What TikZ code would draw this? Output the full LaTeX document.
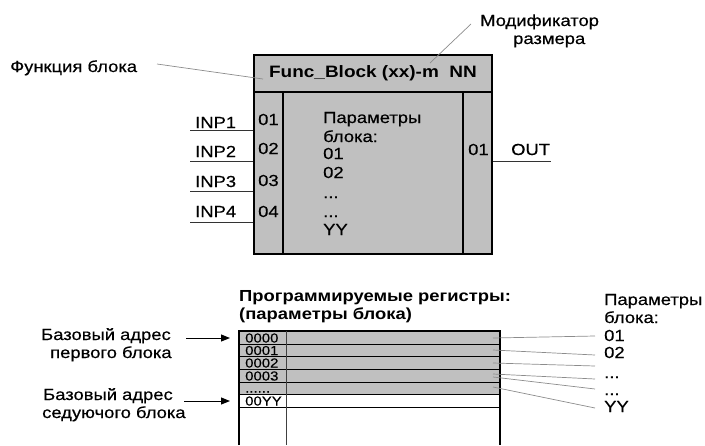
\documentclass[tikz,border=0pt]{standalone}
\usepackage{fontspec}
\setmainfont{Liberation Sans}[FakeStretch=1.15, UprightFeatures={FakeBold=0.4}]
\usetikzlibrary{arrows.meta}
\definecolor{boxgray}{RGB}{192,192,192}
\definecolor{leadgray}{RGB}{140,140,140}
\begin{document}
\begin{tikzpicture}[x=1pt,y=-1pt,
  txt/.style={inner sep=0pt, anchor=base west, font=\fontsize{16}{18}\selectfont},
  btxt/.style={inner sep=0pt, anchor=base west, font=\fontsize{16}{18}\selectfont\bfseries},
  rtxt/.style={inner sep=0pt, anchor=base west, font=\fontsize{13}{14}\selectfont},
  blk/.style={draw, line width=2pt, fill=boxgray, inner sep=0pt, anchor=north west},
  rowbox/.style={draw, line width=1.3pt, fill=boxgray, inner sep=0pt, anchor=north west, minimum width=260pt},
  lead/.style={draw=leadgray, line width=0.7pt},
  wire/.style={draw=black!80, line width=1pt},
  arr/.style={draw, line width=1pt, -{Triangle[length=9pt,width=7pt]}, shorten >=9pt}]
\useasboundingbox (0,0) rectangle (705,445);

% ---------- function block ----------
\node[blk, minimum width=238pt, minimum height=37pt, font=\fontsize{16.5}{18}\selectfont\bfseries] (hdr) at (253,54) {Func\_Block (xx)-m\ \ NN};
\node[blk, minimum width=29pt, minimum height=162pt] (lcol) at (253,91) {};
\node[blk, minimum width=180pt, minimum height=162pt] (mid) at (282,91) {};
\node[blk, minimum width=29pt, minimum height=162pt] (rcol) at (462,91) {};

% labels with leader lines
\node[txt] (fb) at (10,72) {Функция блока};
\coordinate (fbA) at (157,64);
\coordinate (fbB) at (263,79);
\draw[lead] (fbA) -- (fbB);

\node[txt] (mod1) at (480,26) {Модификатор};
\node[txt] (mod2) at (513,44) {размера};
\coordinate (modA) at (471,24);
\coordinate (modB) at (430,63);
\draw[lead] (modA) -- (modB);

% inputs
\node[txt] (n1) at (258,125) {01};
\node[txt] (n2) at (258,154) {02};
\node[txt] (n3) at (258,186) {03};
\node[txt] (n4) at (258,217) {04};
\node[txt] (i1) at (195,128) {INP1};
\node[txt] (i2) at (195,157) {INP2};
\node[txt] (i3) at (195,187) {INP3};
\node[txt] (i4) at (195,217) {INP4};
\coordinate (w1) at (190,130);
\coordinate (w2) at (190,161);
\coordinate (w3) at (190,191);
\coordinate (w4) at (190,222);
\draw[wire] (w1) -- (w1 -| lcol.west);
\draw[wire] (w2) -- (w2 -| lcol.west);
\draw[wire] (w3) -- (w3 -| lcol.west);
\draw[wire] (w4) -- (w4 -| lcol.west);

% parameters
\node[txt] (p1) at (323,123) {Параметры};
\node[txt] (p2) at (323,142) {блока:};
\node[txt] (p3) at (323,159) {01};
\node[txt] (p4) at (323,178) {02};
\node[txt] (p5) at (323,198) {...};
\node[txt] (p6) at (323,217) {...};
\node[txt] (p7) at (323,235) {YY};

% output
\node[txt] (o1) at (468,155) {01};
\node[txt] (out) at (511,155) {OUT};
\coordinate (wo) at (551,161);
\draw[wire] (wo -| rcol.east) -- (wo);

% ---------- registers ----------
\node[btxt] (t1) at (239,301) {Программируемые регистры:};
\node[btxt] (t2) at (239,319) {(параметры блока)};

\node[rowbox, minimum height=13pt] (r0) at (239,331) {};
\node[rowbox, minimum height=12pt] (r1) at (239,344) {};
\node[rowbox, minimum height=13pt] (r2) at (239,356) {};
\node[rowbox, minimum height=13pt] (r3) at (239,369) {};
\node[rowbox, minimum height=12pt] (r4) at (239,382) {};
\node[rowbox, minimum height=13pt, fill=white] (r5) at (239,394) {};

\coordinate (tb) at (0,445);
\draw[line width=2pt] (tb -| r0.west) -- (r0.north west) -- (r0.north east) -- (tb -| r0.east);
\draw[black!75, line width=0.6pt] (286,331) -- (286,445);

\node[rtxt] (a0) at (245,342.5) {0000};
\node[rtxt] (a1) at (245,355) {0001};
\node[rtxt] (a2) at (245,367.5) {0002};
\node[rtxt] (a3) at (245,380.5) {0003};
\node[rtxt] (a4) at (245,392.5) {......};
\node[rtxt] (a5) at (245,405.5) {00YY};

% right labels
\node[txt] (q1) at (604,305) {Параметры};
\node[txt] (q2) at (604,323) {блока:};
\node[txt] (q3) at (604,341) {01};
\node[txt] (q4) at (604,358) {02};
\node[txt] (q5) at (604,378) {...};
\node[txt] (q6) at (604,395) {...};
\node[txt] (q7) at (604,412) {YY};

\coordinate (s1) at (493,338); \coordinate (e1) at (595,336);
\coordinate (s2) at (493,350); \coordinate (e2) at (595,355);
\coordinate (s3) at (493,363); \coordinate (e3) at (595,366);
\coordinate (s4) at (493,374); \coordinate (e4) at (595,379);
\coordinate (s5) at (493,377); \coordinate (e5) at (595,389);
\coordinate (s6) at (493,387); \coordinate (e6) at (595,408);
\draw[lead] (s1) -- (e1);
\draw[lead] (s2) -- (e2);
\draw[lead] (s3) -- (e3);
\draw[lead] (s4) -- (e4);
\draw[lead] (s5) -- (e5);
\draw[lead] (s6) -- (e6);

% left labels with arrows
\node[txt] (b1) at (41,340) {Базовый адрес};
\node[txt] (b2) at (50,358) {первого блока};
\node[txt] (c1) at (43,400) {Базовый адрес};
\node[txt] (c2) at (42,418) {седуючого блока};
\coordinate (ar1) at (186,338);
\coordinate (ar2) at (184,401);
\draw[arr] (ar1) -- (ar1 -| r0.west);
\draw[arr] (ar2) -- (ar2 -| r5.west);
\end{tikzpicture}
\end{document}
